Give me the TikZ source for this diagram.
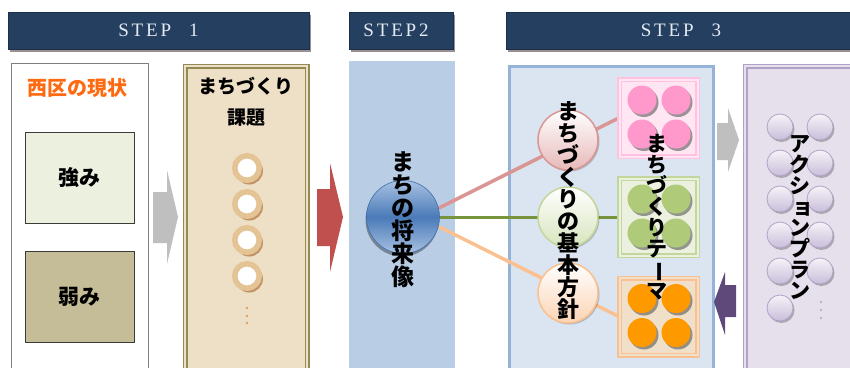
\documentclass[tikz,border=0pt]{standalone}
\usepackage{fontspec}
\usepackage{graphicx}
\newfontfamily\jp{Noto Sans CJK JP}
\newfontfamily\stepfont{Liberation Serif}[LetterSpace=15]
\usetikzlibrary{shadows,calc}
\pgfdeclarelayer{back}
\pgfdeclarelayer{mid}
\pgfsetlayers{back,mid,main}
\definecolor{hdrfill}{HTML}{243F60}
\definecolor{hdrdraw}{HTML}{1A2F4A}
\definecolor{hdrtext}{HTML}{E4EAF2}
\definecolor{hdrshadow}{HTML}{9C8F8F}
\definecolor{grayline}{HTML}{7F7F7F}
\definecolor{orangetitle}{HTML}{FF6A10}
\definecolor{strongfill}{HTML}{EBF1DE}
\definecolor{weakfill}{HTML}{C4BD97}
\definecolor{boxdraw}{HTML}{3A3A3A}
\definecolor{arrowgray}{HTML}{BFBFBF}
\definecolor{arrowred}{HTML}{C0504D}
\definecolor{arrowpurple}{HTML}{5F497A}
\definecolor{olive}{HTML}{948A54}
\definecolor{tanfill}{HTML}{EEDFC7}
\definecolor{ringtan}{HTML}{E4C394}
\definecolor{ringshadow}{HTML}{B37A45}
\definecolor{dotorange}{HTML}{DDA15A}
\definecolor{step2fill}{HTML}{B9CDE5}
\definecolor{sphmid}{HTML}{4A7AB8}
\definecolor{sphedge}{HTML}{A9C2E2}
\definecolor{sphdraw}{HTML}{3F6DA8}
\definecolor{step3fill}{HTML}{DBE5F1}
\definecolor{step3draw}{HTML}{95B3D7}
\definecolor{pinkline}{HTML}{D99694}
\definecolor{greenline}{HTML}{77933C}
\definecolor{orangeline}{HTML}{FAC090}
\definecolor{pinkcirc}{HTML}{E6B9B8}
\definecolor{greencirc}{HTML}{D7E4BD}
\definecolor{greencircdraw}{HTML}{C3D69B}
\definecolor{orangecirc}{HTML}{FBD4B4}
\definecolor{pinkboxdraw}{HTML}{FFC2E0}
\definecolor{pinkboxfill}{HTML}{FFE6F2}
\definecolor{greenboxdraw}{HTML}{C3D69B}
\definecolor{greenboxfill}{HTML}{EBF1DE}
\definecolor{orangeboxdraw}{HTML}{FAC090}
\definecolor{orangeboxfill}{HTML}{F0E0CA}
\definecolor{pinkdot}{HTML}{FF99CC}
\definecolor{greendot}{HTML}{AFCA78}
\definecolor{orangedot}{HTML}{FF9900}
\definecolor{lavdraw}{HTML}{B2A1C7}
\definecolor{lavfill}{HTML}{E5E0EC}
\definecolor{lavcirc}{HTML}{C9BEDA}
\begin{document}
\begin{tikzpicture}[x=1pt,y=-1pt,
  hdr/.style={rectangle, fill=hdrfill, draw=hdrdraw, line width=0.8pt, inner sep=0pt, text=hdrtext,
    font=\stepfont\fontsize{19}{20}\selectfont,
    drop shadow={shadow xshift=1.5pt, shadow yshift=-2.5pt, fill=hdrshadow, opacity=1}},
  panel/.style={rectangle, anchor=north west, inner sep=0pt, minimum height=320pt},
  jptext/.style={font=\jp\bfseries\fontsize{#1}{#1}\selectfont, inner sep=0pt, text=black},
  vtext/.style={font=\jp\bfseries\fontsize{#1}{#1}\selectfont, align=center, inner sep=0pt, text=black},
  swbox/.style={rectangle, draw=boxdraw, line width=1pt, minimum width=109pt, minimum height=91pt, inner sep=0pt},
  ring/.style={circle, draw=ringtan, line width=5.5pt, fill=white, minimum size=24.5pt, inner sep=0pt,
    drop shadow={shadow scale=1.12, shadow xshift=2pt, shadow yshift=-2.5pt, fill=ringshadow, opacity=0.75}},
  bigcirc/.style={circle, minimum size=60pt, inner sep=0pt, line width=1.5pt, top color=white,
    drop shadow={shadow xshift=1.5pt, shadow yshift=-1.5pt, fill=black, opacity=0.2}},
  sqbox/.style={rectangle, minimum width=78pt, minimum height=77pt, inner sep=0pt, line width=1.5pt, double distance=2pt},
  dotc/.style={circle, minimum size=29pt, inner sep=0pt,
    drop shadow={shadow xshift=2pt, shadow yshift=-2.5pt, fill=black!70, opacity=0.55}},
  lav/.style={circle, minimum size=26pt, inner sep=0pt, draw=lavdraw, line width=0.8pt,
    top color=lavfill!40!white, bottom color=lavcirc,
    drop shadow={shadow xshift=1.5pt, shadow yshift=-2pt, fill=black!60, opacity=0.45}},
  link/.style={line width=3.5pt}
]
\useasboundingbox (0,0) rectangle (850,367);

% ---------- panels ----------
\begin{pgfonlayer}{back}
\node[panel, draw=grayline, line width=1pt, fill=white, minimum width=137pt] (p1) at (11,63) {};
\node[panel, draw=olive, double=tanfill, double distance=2pt, line width=1.5pt, fill=tanfill, minimum width=122pt] (p2) at (184.5,65.5) {};
\node[panel, fill=step2fill, minimum width=106pt] (p3) at (349,61) {};
\node[panel, fill=step3fill, draw=step3draw, line width=3pt, minimum width=204pt] (p4) at (507.5,64.5) {};
\node[panel, draw=lavdraw, double=lavfill, double distance=2pt, line width=1.5pt, fill=lavfill, minimum width=130pt] (p5) at (744.5,65.5) {};
\end{pgfonlayer}

% ---------- headers ----------
\node[hdr, minimum width=301pt, minimum height=37pt] (h1) at (158.5,30.5) {STEP\hspace{18pt}1};
\node[hdr, minimum width=104pt, minimum height=37pt] (h2) at (401,30.5) {\hspace*{-10pt}STEP2};
\node[hdr, minimum width=350pt, minimum height=37pt] (h3) at (681,30.5) {STEP\hspace{18pt}3};

% ---------- STEP 1 ----------
\node[jptext=20, text=orangetitle] (t1) at (77,88) {西区の現状};
\node[swbox, fill=strongfill, jptext=21] (s1) at (79.5,177.5) {強み};
\node[swbox, fill=weakfill, jptext=21] (s2) at (79.5,296.5) {弱み};

\fill[arrowgray] (153,192) -- (167,192) -- (167,170) -- (178,217) -- (167,264) -- (167,243) -- (153,243) -- cycle;

\node[jptext=19] (k1) at (246,86) {まちづくり};
\node[jptext=19] (k2) at (246,118) {課題};
\foreach \y/\n in {168/1,204/2,240/3,276/4} \node[ring] (r\n) at (247,\y) {};
\foreach \y in {308,316,323} \fill[dotorange] (247,\y) circle (1.3pt);

\fill[arrowred] (317,189) -- (330,189) -- (330,163) -- (343,217) -- (330,272) -- (330,246) -- (317,246) -- cycle;

% ---------- STEP 2 ----------
\node[circle, minimum size=73pt, inner sep=0pt, draw=sphdraw, line width=0.6pt,
  top color=sphedge, bottom color=sphedge, middle color=sphmid,
  drop shadow={shadow xshift=-1pt, shadow yshift=-3pt, fill=black, opacity=0.35}] (sph) at (403,217) {};

% ---------- STEP 3 ----------
\node[sqbox, draw=pinkboxdraw, double=pinkboxfill, fill=pinkboxfill] (b1) at (658.5,118) {};
\node[sqbox, draw=greenboxdraw, double=greenboxfill, fill=greenboxfill] (b2) at (658.5,217) {};
\node[sqbox, draw=orangeboxdraw, double=orangeboxfill, fill=orangeboxfill] (b3) at (658.5,316.5) {};

\begin{pgfonlayer}{mid}
\draw[link, pinkline] (sph.14) -- (b1.west);
\draw[link, greenline, line width=3pt] (sph.east) -- (b2.west);
\draw[link, orangeline] (sph.-15) -- (b3.west);
\end{pgfonlayer}

\node[bigcirc, draw=pinkline, bottom color=pinkcirc] (c1) at (568,140) {};
\node[bigcirc, draw=greencircdraw, bottom color=greencirc] (c2) at (568,217) {};
\node[bigcirc, draw=orangeline, bottom color=orangecirc] (c3) at (568,293) {};

\foreach \b/\col in {b1/pinkdot, b2/greendot, b3/orangedot}
  \foreach \dx/\dy/\n in {-16.5/-18/a, 17.5/-18/b, -16.5/16/c, 17.5/16/d}
    \node[dotc, fill=\col] (\b\n) at ($(\b)+(\dx,\dy)$) {};

\fill[arrowgray] (717,123) -- (728,123) -- (728,108) -- (739,140) -- (728,172) -- (728,160) -- (717,160) -- cycle;
\fill[arrowpurple] (736,285) -- (725,285) -- (725,272) -- (714,302) -- (725,335) -- (725,317) -- (736,317) -- cycle;

% ---------- action plan ----------
\foreach \y/\n in {127/1,163/2,199/3,235/4,271/5} {
  \node[lav] (la\n) at (780,\y) {};
  \node[lav] (lb\n) at (820,\y) {};
}
\node[lav] (la6) at (780,308) {};
\foreach \y in {302,310,318} \fill[lavdraw] (821,\y) circle (1.2pt);

% ---------- vertical texts ----------
\node[vtext=23] (v1) at (403,220) {ま\\ち\\の\\将\\来\\像};
\node[vtext=22] (v2) at (568,211) {ま\\ち\\づ\\く\\り\\の\\基\\本\\方\\針};
\node[vtext=21] (v3) at (657,217) {ま\\ち\\づ\\く\\り\\テ\\\rotatebox[origin=c]{-90}{ー}\\マ};
\node[vtext=21] (v4) at (800,217) {ア\\ク\\シ\\\makebox[1em]{\hspace{0.3em}ョ}\\ン\\プ\\ラ\\ン};
\end{tikzpicture}
\end{document}
